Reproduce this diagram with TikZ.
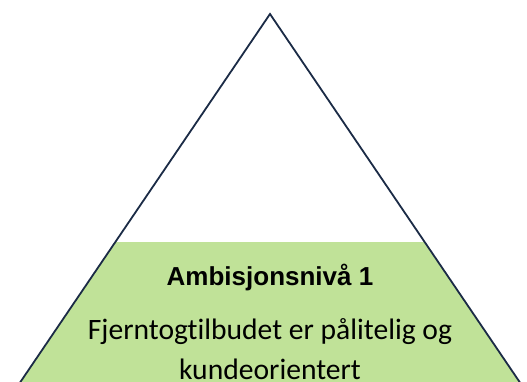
\documentclass[tikz,border=0pt]{standalone}
\usepackage{fontspec}
\setmainfont{Carlito}[Ligatures=NoCommon]
\newfontfamily\headfont{Liberation Sans}
\definecolor{levelgreen}{RGB}{192,226,152}
\definecolor{edgeblue}{RGB}{27,43,70}
\begin{document}
\begin{tikzpicture}[x=1pt,y=-1pt]
\useasboundingbox (0,0) rectangle (527,382);
\coordinate (top) at (270,14);
\coordinate (bl) at (17,387);
\coordinate (br) at (523,387);
\begin{scope}
\clip (0,0) rectangle (527,382);
\begin{scope}
\clip (top)--(bl)--(br)--cycle;
\fill[levelgreen] (0,242) rectangle (527,400);
\end{scope}
\draw[edgeblue,line width=1.8pt](bl)--(top)--(br);
\end{scope}
\node[font=\headfont\bfseries\fontsize{26}{30}\selectfont,anchor=base,inner sep=0pt](level) at (270,285){Ambisjonsnivå 1};
\node[font=\fontsize{29.6}{34}\selectfont,anchor=base,inner sep=0pt](goal1) at (270,339){Fjerntogtilbudet er pålitelig og};
\node[font=\fontsize{29.6}{34}\selectfont,anchor=base,inner sep=0pt](goal2) at (270,379.5){kundeorientert};
\end{tikzpicture}
\end{document}
